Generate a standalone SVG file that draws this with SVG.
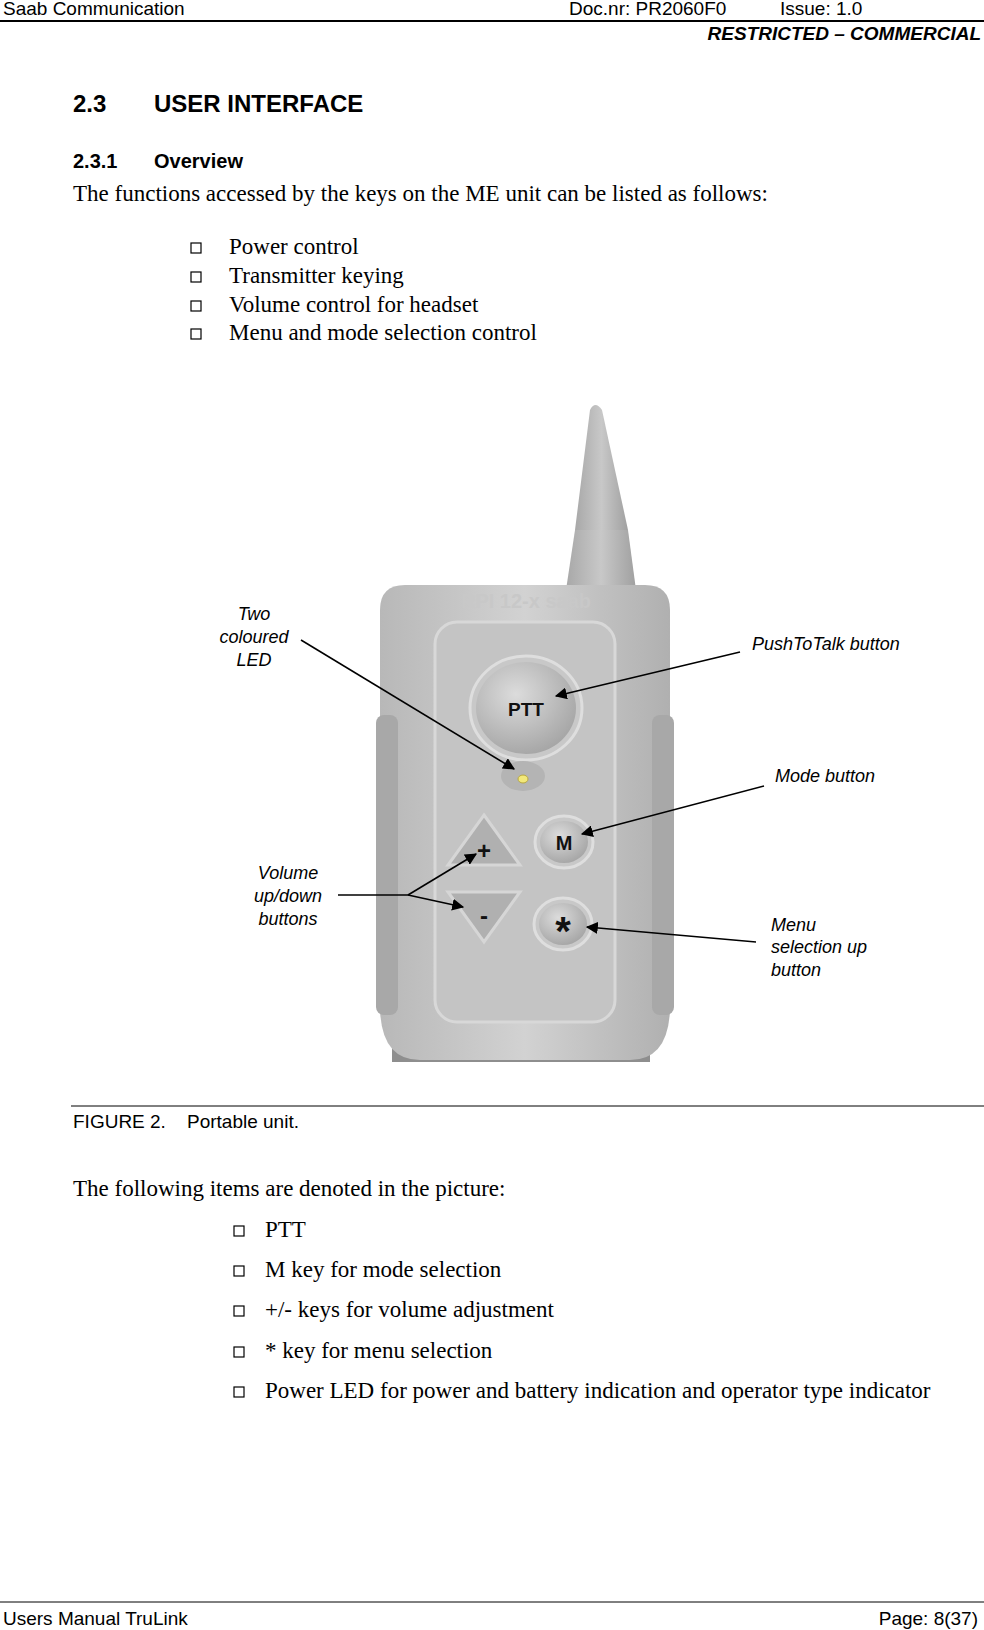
<svg xmlns="http://www.w3.org/2000/svg" width="984" height="1630" viewBox="0 0 984 1630">
<style>
.h{font-family:"Liberation Sans",Arial,sans-serif;font-size:19px;fill:#000}
.b{font-family:"Liberation Serif","Times New Roman",serif;font-size:23px;fill:#000}
.lb{font-family:"Liberation Sans",Arial,sans-serif;font-size:18px;font-style:italic;fill:#000}
.cb{fill:#fff;stroke:#000;stroke-width:1.2}
.ln{stroke:#000;stroke-width:1.6;fill:none}
.key{font-family:"Liberation Sans",Arial,sans-serif;font-weight:bold;fill:#111}
</style>
<defs>
<marker id="ar" viewBox="0 0 10 10" refX="9" refY="5" markerWidth="12" markerHeight="12" orient="auto" markerUnits="userSpaceOnUse"><path d="M0,0L10,5L0,10z" fill="#000"/></marker>
<linearGradient id="body" x1="0" x2="1" y1="0" y2="0"><stop offset="0" stop-color="#b8b8b8"/><stop offset="0.5" stop-color="#d2d2d2"/><stop offset="1" stop-color="#b0b0b0"/></linearGradient>
<linearGradient id="ant" x1="0" x2="1"><stop offset="0" stop-color="#a8a8a8"/><stop offset="0.5" stop-color="#c8c8c8"/><stop offset="1" stop-color="#a0a0a0"/></linearGradient>
<radialGradient id="btn" cx="0.4" cy="0.35" r="0.7"><stop offset="0" stop-color="#dcdcdc"/><stop offset="1" stop-color="#a4a4a4"/></radialGradient>
</defs>
<rect width="984" height="1630" fill="#fff"/>
<text class="h" x="3" y="15">Saab Communication</text>
<text class="h" x="569" y="15">Doc.nr: PR2060F0</text>
<text class="h" x="780" y="15">Issue: 1.0</text>
<line x1="0" y1="21" x2="984" y2="21" stroke="#000" stroke-width="2"/>
<text class="h" x="981" y="40" text-anchor="end" font-weight="bold" font-style="italic">RESTRICTED – COMMERCIAL</text>
<text class="h" x="73" y="112" font-weight="bold" style="font-size:24px">2.3</text>
<text class="h" x="154" y="112" font-weight="bold" style="font-size:24px">USER INTERFACE</text>
<text class="h" x="73" y="168" font-weight="bold" style="font-size:20px">2.3.1</text>
<text class="h" x="154" y="168" font-weight="bold" style="font-size:20px">Overview</text>
<text class="b" x="73" y="201">The functions accessed by the keys on the ME unit can be listed as follows:</text>
<g>
<rect class="cb" x="191" y="243" width="10" height="10"/><text class="b" x="229" y="254">Power control</text>
<rect class="cb" x="191" y="272" width="10" height="10"/><text class="b" x="229" y="283">Transmitter keying</text>
<rect class="cb" x="191" y="301" width="10" height="10"/><text class="b" x="229" y="312">Volume control for headset</text>
<rect class="cb" x="191" y="329" width="10" height="10"/><text class="b" x="229" y="340">Menu and mode selection control</text>
</g>
<g id="device">
<path d="M575,530 L590,410 Q595,400 602,410 L628,530 Z" fill="url(#ant)"/>
<path d="M566,590 L575,530 L628,530 L636,590 Z" fill="url(#ant)"/>
<rect x="392" y="1020" width="258" height="42" fill="#8e8e8e"/>
<path d="M405,585 Q380,585 380,610 L380,1010 Q382,1060 420,1060 L630,1060 Q668,1060 670,1010 L670,610 Q670,585 645,585 Z" fill="url(#body)"/>
<rect x="376" y="715" width="22" height="300" rx="8" fill="#a8a8a8"/>
<rect x="652" y="715" width="22" height="300" rx="8" fill="#a8a8a8"/>
<text x="526" y="608" text-anchor="middle" font-family="Liberation Sans,Arial,sans-serif" font-size="20" font-weight="bold" fill="#c8c8c8">RPI 12-x saab</text>
<rect x="435" y="622" width="180" height="400" rx="22" fill="#c4c4c4" stroke="#d8d8d8" stroke-width="3"/>
<ellipse cx="526" cy="708" rx="56" ry="52" fill="#c8c8c8" stroke="#dedede" stroke-width="3"/>
<ellipse cx="523" cy="776" rx="22" ry="15" fill="#b4b4b4"/>
<ellipse cx="526" cy="708" rx="50" ry="46" fill="url(#btn)"/>
<text class="key" x="526" y="716" text-anchor="middle" font-size="19">PTT</text>
<ellipse cx="523" cy="779" rx="5" ry="4" fill="#f2e87a" stroke="#b8a840"/>
<path d="M484,815 L520,865 L448,865 Z" fill="#b0b0b0" stroke="#d6d6d6" stroke-width="3"/>
<text class="key" x="484" y="859" text-anchor="middle" font-size="24">+</text>
<path d="M448,892 L520,892 L484,942 Z" fill="#b0b0b0" stroke="#d6d6d6" stroke-width="3"/>
<text class="key" x="484" y="924" text-anchor="middle" font-size="24">-</text>
<ellipse cx="564" cy="842" rx="29" ry="26" fill="#c8c8c8" stroke="#dedede" stroke-width="3"/>
<ellipse cx="564" cy="842" rx="24" ry="21" fill="url(#btn)"/>
<text class="key" x="564" y="850" text-anchor="middle" font-size="20">M</text>
<ellipse cx="563" cy="924" rx="29" ry="26" fill="#c8c8c8" stroke="#dedede" stroke-width="3"/>
<ellipse cx="563" cy="924" rx="24" ry="21" fill="url(#btn)"/>
<text class="key" x="563" y="945" text-anchor="middle" font-size="40">*</text>
</g>
<g id="labels">
<text class="lb" text-anchor="middle"><tspan x="254" y="620">Two</tspan><tspan x="254" y="643">coloured</tspan><tspan x="254" y="666">LED</tspan></text>
<text class="lb" x="752" y="650">PushToTalk button</text>
<text class="lb" x="775" y="782">Mode button</text>
<text class="lb" text-anchor="middle"><tspan x="288" y="879">Volume</tspan><tspan x="288" y="902">up/down</tspan><tspan x="288" y="925">buttons</tspan></text>
<text class="lb"><tspan x="771" y="931">Menu</tspan><tspan x="771" y="953">selection up</tspan><tspan x="771" y="976">button</tspan></text>
</g>
<g id="connectors">
<line class="ln" x1="301" y1="640" x2="514" y2="769" marker-end="url(#ar)"/>
<line class="ln" x1="740" y1="652" x2="556" y2="696" marker-end="url(#ar)"/>
<line class="ln" x1="764" y1="786" x2="582" y2="834" marker-end="url(#ar)"/>
<line class="ln" x1="338" y1="895" x2="408" y2="895"/>
<line class="ln" x1="408" y1="895" x2="476" y2="854" marker-end="url(#ar)"/>
<line class="ln" x1="408" y1="895" x2="463" y2="907" marker-end="url(#ar)"/>
<line class="ln" x1="756" y1="942" x2="587" y2="927" marker-end="url(#ar)"/>
</g>
<line x1="71" y1="1106" x2="984" y2="1106" stroke="#000" stroke-width="1"/>
<text class="h" x="73" y="1128">FIGURE 2.</text>
<text class="h" x="187" y="1128">Portable unit.</text>
<text class="b" x="73" y="1196">The following items are denoted in the picture:</text>
<g>
<rect class="cb" x="234" y="1226" width="10" height="10"/><text class="b" x="265" y="1237">PTT</text>
<rect class="cb" x="234" y="1266" width="10" height="10"/><text class="b" x="265" y="1277">M key for mode selection</text>
<rect class="cb" x="234" y="1306" width="10" height="10"/><text class="b" x="265" y="1317">+/- keys for volume adjustment</text>
<rect class="cb" x="234" y="1347" width="10" height="10"/><text class="b" x="265" y="1358">* key for menu selection</text>
<rect class="cb" x="234" y="1387" width="10" height="10"/><text class="b" x="265" y="1398">Power LED for power and battery indication and operator type indicator</text>
</g>
<line x1="0" y1="1602" x2="984" y2="1602" stroke="#000" stroke-width="1"/>
<text class="h" x="3" y="1625">Users Manual TruLink</text>
<text class="h" x="978" y="1625" text-anchor="end">Page: 8(37)</text>
</svg>
